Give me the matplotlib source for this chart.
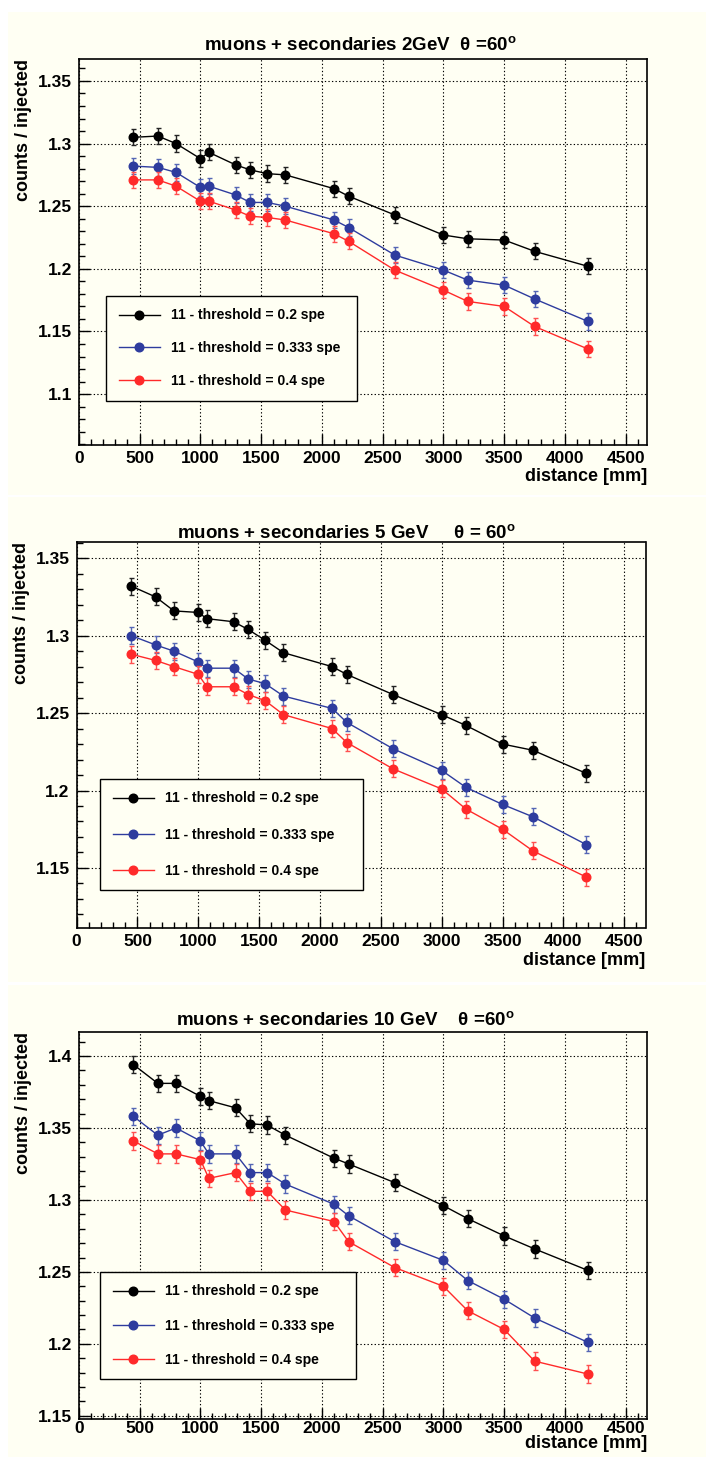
import matplotlib
matplotlib.use("Agg")
import matplotlib.pyplot as plt
from matplotlib.patches import Rectangle
from matplotlib.ticker import MultipleLocator, FuncFormatter

plt.rcParams['font.family'] = ['Liberation Sans', 'DejaVu Sans']
plt.rcParams['font.weight'] = 'bold'
plt.rcParams['mathtext.fontset'] = 'custom'
plt.rcParams['mathtext.rm'] = 'Liberation Sans:bold'
plt.rcParams['mathtext.it'] = 'Liberation Sans:bold'
plt.rcParams['mathtext.bf'] = 'Liberation Sans:bold'

# ---- data -------------------------------------------------------------
distance = [450, 650, 800, 1000, 1070, 1290, 1410, 1550, 1700,
            2100, 2220, 2600, 3000, 3200, 3500, 3750, 4190]

labels = ["11 - threshold = 0.2 spe",
          "11 - threshold = 0.333 spe",
          "11 - threshold = 0.4 spe"]

titles = ["muons + secondaries 2GeV  \u03b8 =60$^{o}$",
          "muons + secondaries 5 GeV     \u03b8 = 60$^{o}$",
          "muons + secondaries 10 GeV    \u03b8 =60$^{o}$"]

# 2 GeV
e2_t02 = [1.305, 1.306, 1.300, 1.288, 1.293, 1.283, 1.279, 1.276, 1.275,
          1.264, 1.258, 1.243, 1.227, 1.224, 1.223, 1.214, 1.202]
e2_t0333 = [1.282, 1.281, 1.277, 1.265, 1.266, 1.259, 1.253, 1.253, 1.250,
            1.239, 1.233, 1.211, 1.199, 1.191, 1.187, 1.176, 1.158]
e2_t04 = [1.271, 1.271, 1.266, 1.254, 1.254, 1.247, 1.242, 1.241, 1.239,
          1.228, 1.222, 1.199, 1.183, 1.174, 1.170, 1.154, 1.136]
e2_err = [0.0065] * 17

# 5 GeV
e5_t02 = [1.332, 1.325, 1.316, 1.315, 1.311, 1.309, 1.304, 1.297, 1.289,
          1.280, 1.275, 1.262, 1.249, 1.242, 1.230, 1.226, 1.211]
e5_t0333 = [1.300, 1.294, 1.290, 1.283, 1.279, 1.279, 1.272, 1.269, 1.261,
            1.253, 1.244, 1.227, 1.213, 1.202, 1.191, 1.183, 1.165]
e5_t04 = [1.288, 1.284, 1.280, 1.275, 1.267, 1.267, 1.262, 1.258, 1.249,
          1.240, 1.231, 1.214, 1.201, 1.188, 1.175, 1.161, 1.144]
e5_err = [0.0055] * 17

# 10 GeV
e10_t02 = [1.394, 1.381, 1.381, 1.372, 1.369, 1.364, 1.353, 1.352, 1.345,
           1.329, 1.325, 1.312, 1.296, 1.287, 1.275, 1.266, 1.251]
e10_t0333 = [1.358, 1.345, 1.350, 1.341, 1.332, 1.332, 1.319, 1.319, 1.311,
             1.297, 1.289, 1.271, 1.258, 1.244, 1.231, 1.218, 1.201]
e10_t04 = [1.341, 1.332, 1.332, 1.328, 1.315, 1.319, 1.306, 1.306, 1.293,
           1.285, 1.271, 1.253, 1.240, 1.223, 1.210, 1.188, 1.179]
e10_err = [0.006] * 17

series = [(e2_t02, e2_t0333, e2_t04, e2_err),
          (e5_t02, e5_t0333, e5_t04, e5_err),
          (e10_t02, e10_t0333, e10_t04, e10_err)]

# ---- layout (pixels) --------------------------------------------------
W, H = 706, 1457
CREAM = '#FFFFF3'
colors = ['#000000', '#2E3C9E', '#FF2A2A']
ecolors = ['#222222', '#5566B5', '#FF5050']

panel_bg = [(8, 12, 495), (8, 497, 982), (8, 985, 1457)]
axes_px = [(78.8, 647, 59, 445), (76.6, 645.5, 541.7, 928.3), (78.8, 647, 1031.7, 1418.7)]
ylims = [(1.0594, 1.3675), (1.111, 1.3607), (1.148, 1.4169)]
title_xy = [(360, 45), (346, 533), (345, 1020)]
legend_px = [(106, 357, 296, 396), (100, 363, 779, 889), (100, 356, 1272, 1376)]
legend_spacing = [1.35, 1.6, 1.45]
xtick_pad = [4, 4, 2]
xlabel_pad = [2, 2, -1]

fig = plt.figure(figsize=(W / 100, H / 100), dpi=100, facecolor='white')

for (x0, y0, y1) in panel_bg:
    fig.patches.append(Rectangle((x0 / W, 1 - y1 / H), (W - x0) / W, (y1 - y0) / H,
                                 transform=fig.transFigure, facecolor=CREAM,
                                 edgecolor='none', zorder=-10))


def fmt_y(v, pos):
    return ('%.2f' % v).rstrip('0').rstrip('.')


for i in range(3):
    l, r, t, b = axes_px[i]
    ax = fig.add_axes([l / W, 1 - b / H, (r - l) / W, (b - t) / H])
    ax.set_zorder(1)
    ax.set_facecolor(CREAM)
    ax.set_xlim(0, 4675)
    ax.set_ylim(*ylims[i])

    ys = series[i]
    err = ys[3]
    handles = []
    for k in range(3):
        h = ax.errorbar(distance, ys[k], yerr=err, fmt='o-', color=colors[k],
                        ecolor=ecolors[k], ms=6.2, lw=1.0, elinewidth=1.0,
                        capsize=1.8, capthick=1.0, zorder=3 + k)
        handles.append(h[0])

    ax.xaxis.set_major_locator(MultipleLocator(500))
    ax.xaxis.set_minor_locator(MultipleLocator(100))
    ax.yaxis.set_major_locator(MultipleLocator(0.05))
    ax.yaxis.set_minor_locator(MultipleLocator(0.01))
    ax.yaxis.set_major_formatter(FuncFormatter(fmt_y))
    ax.tick_params(axis='both', which='both', direction='in', top=False, right=False,
                   labelsize=12.5, width=1.0, color='black')
    ax.tick_params(axis='both', which='major', length=8)
    ax.tick_params(axis='both', which='minor', length=4.5)
    ax.tick_params(axis='x', pad=xtick_pad[i])
    ax.tick_params(axis='y', pad=5)
    for lab in ax.get_xticklabels() + ax.get_yticklabels():
        lab.set_fontweight('bold')

    ax.grid(True, which='major', color='black', linestyle=(0, (1.2, 2.0)), linewidth=0.8)
    for s in ax.spines.values():
        s.set_linewidth(1.2)

    ax.set_xlabel('distance [mm]', fontsize=13, fontweight='bold', loc='right',
                  labelpad=xlabel_pad[i])
    ax.set_ylabel('counts / injected', fontsize=13, fontweight='bold', loc='top', labelpad=4)

    tx, ty = title_xy[i]
    fig.text(tx / W, 1 - ty / H, titles[i], ha='center', va='center',
             fontsize=13.5, fontweight='bold')

    lx0, lx1, ly0, ly1 = legend_px[i]
    leg = ax.legend(handles, labels, loc='upper left',
                    bbox_to_anchor=(lx0 / W, 1 - ly0 / H, (lx1 - lx0) / W, 0),
                    bbox_transform=fig.transFigure, mode='expand',
                    prop={'weight': 'bold', 'size': 10}, frameon=True, fancybox=False,
                    edgecolor='black', facecolor=CREAM, framealpha=1.0,
                    handlelength=3.0, handletextpad=0.8, borderpad=0.9,
                    labelspacing=legend_spacing[i], borderaxespad=0)
    leg.get_frame().set_linewidth(1.0)

fig.savefig('out.png', dpi=100, facecolor='white')
